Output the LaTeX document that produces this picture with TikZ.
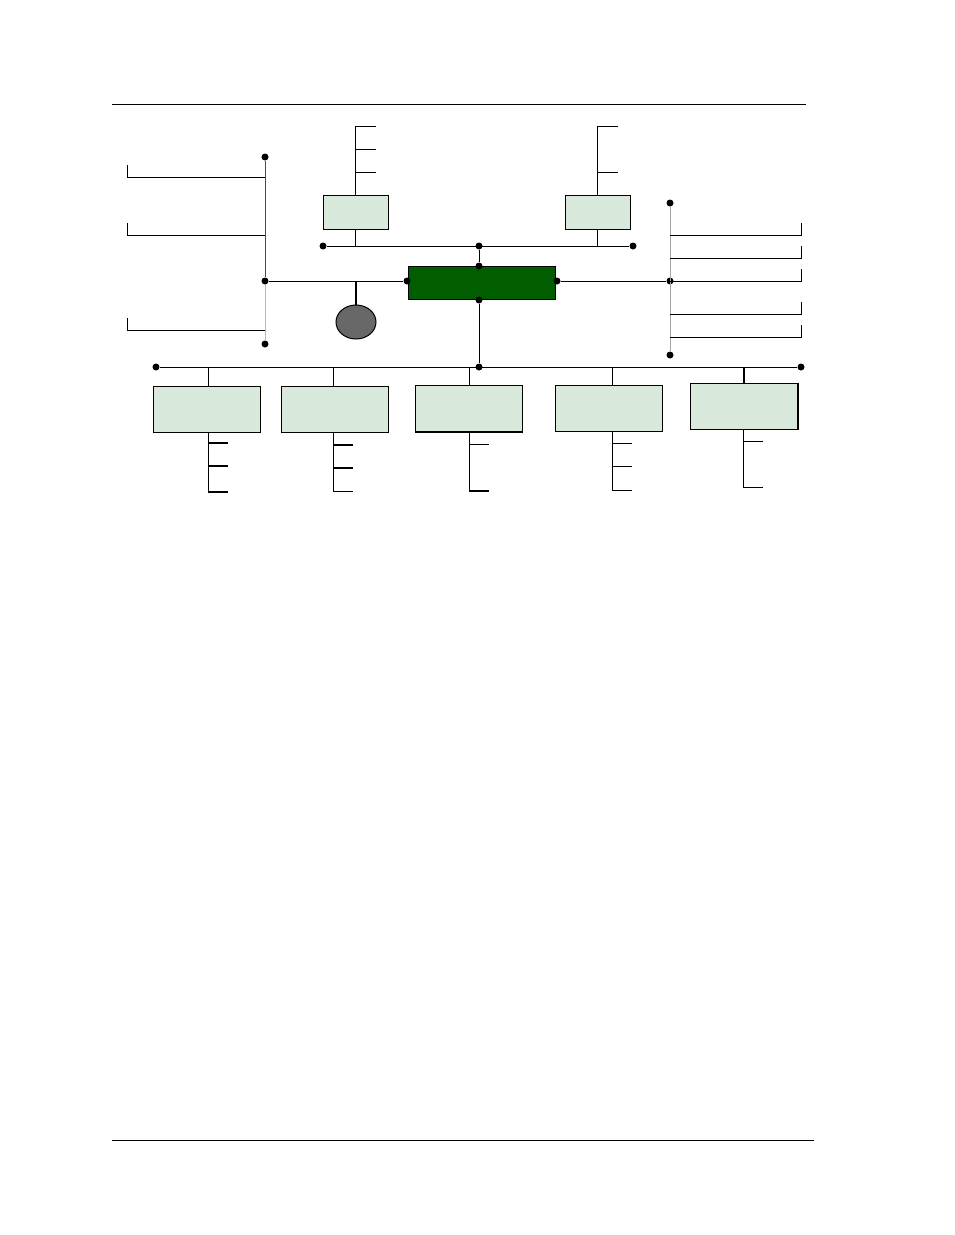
\documentclass[tikz,border=0pt]{standalone}
\usepackage{tikz}
\usetikzlibrary{calc}
\usetikzlibrary{shapes.geometric}
\definecolor{unitfill}{RGB}{216,232,218}
\definecolor{hubfill}{RGB}{0,94,0}
\definecolor{drumfill}{RGB}{104,104,104}
\newcommand{\ticklen}{20}
\newcommand{\hooklen}{12}
\newcommand{\lbusx}{265}
\newcommand{\rbusx}{670}
\newcommand{\rfeedend}{801}
\newcommand{\lfeedend}{127}

\begin{document}
\begin{tikzpicture}[x=1pt,y=-1pt,line width=1pt,
    dot/.style={circle,fill=black,inner sep=0pt,minimum size=7pt},
    smallbox/.style={draw,fill=unitfill,inner sep=0pt,
      minimum width=65pt,minimum height=34pt},
    unitbox/.style={draw,fill=unitfill,inner sep=0pt,
      minimum width=107pt,minimum height=46pt},
    heavy/.style={line width=2pt}]
    \useasboundingbox (0,0) rectangle (954,1235);
    % page rules
    \draw (112,104) -- (806,104);
    \draw (112,1140) -- (814,1140);

    % hub
    \node[draw,fill=hubfill,inner sep=0pt,minimum width=147pt,
      minimum height=33pt] (hub) at (481.5,282.5) {};
    \node[dot] (hubW) at (407,281) {};
    \node[dot] (hubE) at (557,281) {};
    \node[dot] (hubN) at (479,266) {};
    \node[dot] (hubS) at (479,300) {};

    % left bus
    \node[dot] (lbtop) at (\lbusx,157) {};
    \node[dot] (lbmid) at (\lbusx,281) {};
    \node[dot] (lbbot) at (\lbusx,344) {};
    \draw[gray!60!black] (lbtop) -- (lbmid);
    \draw[gray!55] (lbmid) -- (lbbot);
    \foreach \y in {177,235,330}
      \draw (lbtop |- 0,\y) -- (\lfeedend,\y) -- ++(0,-\hooklen);
    \draw (lbmid) -- (hubW);

    % drum
    \node[draw,ellipse,fill=drumfill,inner sep=0pt,minimum width=40pt,
      minimum height=34pt] (drum) at (356,322) {};
    \draw[heavy] (drum.north) -- (drum.north |- lbmid);

    % top bus
    \node[dot] (tbL) at (323,246) {};
    \node[dot] (tbM) at (479,246) {};
    \node[dot] (tbR) at (633,246) {};
    \draw (tbL) -- (tbR);
    \draw (tbM) -- (hubN);
    \node[smallbox] (tlbox) at (355.5,212) {};
    \node[smallbox] (trbox) at (597.5,212) {};
    \draw (tlbox.south) -- (tlbox.south |- tbL);
    \draw (trbox.south) -- (trbox.south |- tbR);
    \draw (tlbox.north) -- (tlbox.north |- 0,126);
    \foreach \y in {126,149,172}
      \draw (tlbox.north |- 0,\y) -- ++(\ticklen,0);
    \draw (trbox.north) -- (trbox.north |- 0,126);
    \foreach \y in {126,172}
      \draw (trbox.north |- 0,\y) -- ++(\ticklen,0);

    % right bus
    \node[dot] (rbtop) at (\rbusx,203) {};
    \node[dot] (rbmid) at (\rbusx,281) {};
    \node[dot] (rbbot) at (\rbusx,355) {};
    \draw[gray!70] (rbtop) -- (rbbot);
    \draw (hubE) -- (rbmid);
    \foreach \y in {235,258,281,314,337}
      \draw (rbtop |- 0,\y) -- (\rfeedend,\y) -- ++(0,-\hooklen);

    % bottom bus
    \node[dot] (bbL) at (156,367) {};
    \node[dot] (bbM) at (479,367) {};
    \node[dot] (bbR) at (801,367) {};
    \draw (bbL) -- (bbR);
    \draw (hubS) -- (bbM);
    \foreach \n/\bx/\by/\sx/\lend/\legs in {
        1/206.5/409/208/492/{443/2,466/2,492/2},
        2/334.5/409/333/491/{445/2,468/2,491/1},
        3/469/408/469/491/{444/1,491/2},
        4/608.5/408/612/490/{443/1,466/1,490/1},
        5/744/406.5/743/487/{441/1,487/1}} {
      \node[unitbox] (u\n) at (\bx,\by) {};
      \draw (\sx,0 |- bbL) -- (\sx,0 |- u\n.north);
      \draw (\sx,0 |- u\n.south) -- (\sx,\lend);
      \foreach \y/\w in \legs
        \draw[line width=\w pt] (\sx,\y) -- ++(\ticklen,0);
    }
    \draw[heavy] (744,0 |- bbL) -- (744,0 |- u5.north);
    \draw[heavy] (u3.south west) -- (u3.south east);
    \draw[heavy] (u5.north east) -- (u5.south east);
\end{tikzpicture}
\end{document}
